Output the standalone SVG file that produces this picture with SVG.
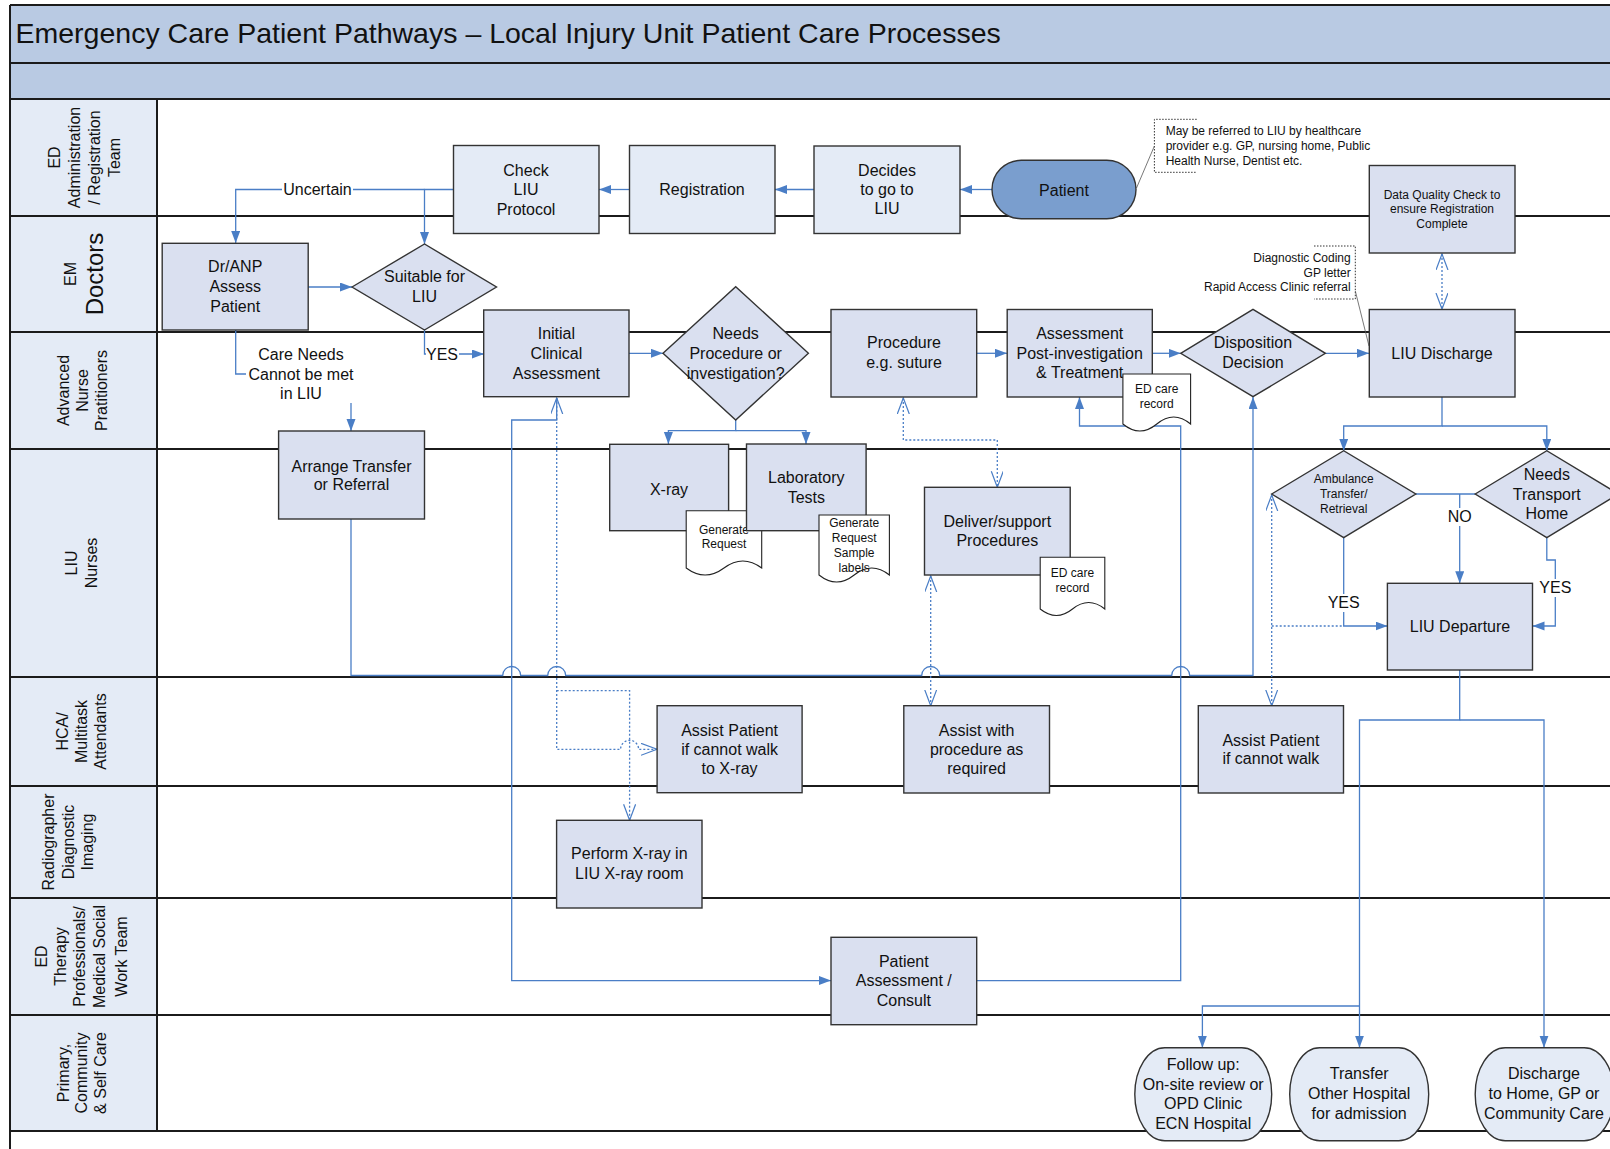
<svg xmlns="http://www.w3.org/2000/svg" width="1610" height="1149" viewBox="0 0 1610 1149">
<style>
.frame{fill:none;stroke:#1b1b1b;stroke-width:2}
.sep{stroke:#1b1b1b;stroke-width:2}
.box{fill:#DAE0F0;stroke:#333;stroke-width:1.4}
.lbox{fill:#E4EBF6;stroke:#333;stroke-width:1.4}
.doc{fill:#fff;stroke:#222;stroke-width:1.1}
.t{font-family:"Liberation Sans",Arial,sans-serif;font-size:16px;fill:#111;text-anchor:middle}
.s{font-size:12px}
.lane{font-family:"Liberation Sans",Arial,sans-serif;font-size:16px;fill:#111;text-anchor:middle}
.c{fill:none;stroke:#4A7EC6;stroke-width:1.3}
.d{stroke-dasharray:2 2}
.bg{fill:#fff}
.note{fill:none;stroke:#333;stroke-width:1;stroke-dasharray:1.5 1.5}
.thin{fill:none;stroke:#555;stroke-width:0.8}
</style>
<defs>
<marker id="ar" markerUnits="userSpaceOnUse" markerWidth="13" markerHeight="10" refX="12" refY="4.5" orient="auto">
<path d="M0,0 L12,4.5 L0,9 z" fill="#4A7EC6"/>
</marker>
<marker id="op" markerUnits="userSpaceOnUse" markerWidth="18" markerHeight="14" refX="16" refY="6" orient="auto-start-reverse">
<path d="M0,0 L16,6 L0,12" fill="none" stroke="#4A7EC6" stroke-width="1.2"/>
</marker>
</defs>
<rect width="1610" height="1149" fill="#fff"/>
<g id="frame">
<rect x="10" y="5" width="1610" height="58" fill="#B9CAE3"/>
<rect x="10" y="63" width="1610" height="36" fill="#B9CAE3"/>
<rect x="10" y="99" width="147" height="1032" fill="#E4EBF6"/>
<line class="sep" x1="10" y1="5" x2="1610" y2="5"/>
<line class="sep" x1="10" y1="5" x2="10" y2="1149"/>
<line class="sep" x1="10" y1="63" x2="1610" y2="63"/>
<line class="sep" x1="10" y1="99" x2="1610" y2="99"/>
<line class="sep" x1="10" y1="216" x2="1610" y2="216"/>
<line class="sep" x1="10" y1="332" x2="1610" y2="332"/>
<line class="sep" x1="10" y1="449" x2="1610" y2="449"/>
<line class="sep" x1="10" y1="677" x2="1610" y2="677"/>
<line class="sep" x1="10" y1="786" x2="1610" y2="786"/>
<line class="sep" x1="10" y1="898" x2="1610" y2="898"/>
<line class="sep" x1="10" y1="1015" x2="1610" y2="1015"/>
<line class="sep" x1="10" y1="1131" x2="1610" y2="1131"/>
<line class="sep" x1="157" y1="99" x2="157" y2="1131"/>
<text x="15.5" y="43" font-family="Liberation Sans, Arial, sans-serif" font-size="28.5" fill="#111">Emergency Care Patient Pathways – Local Injury Unit Patient Care Processes</text>
</g>
<g id="lane-labels">
<text class="lane" transform="translate(0,157.5) rotate(-90)"><tspan x="0" y="59.5">ED</tspan><tspan x="0" y="79.5">Administration</tspan><tspan x="0" y="99.5">/ Registration</tspan><tspan x="0" y="119.5">Team</tspan></text>
<text class="lane" transform="translate(0,274) rotate(-90)"><tspan x="0" y="75.5">EM</tspan><tspan x="0" y="103" font-size="24">Doctors</tspan></text>
<text class="lane" transform="translate(0,390.5) rotate(-90)"><tspan x="0" y="68.5">Advanced</tspan><tspan x="0" y="87.5">Nurse</tspan><tspan x="0" y="106.5">Pratitioners</tspan></text>
<text class="lane" transform="translate(0,563) rotate(-90)"><tspan x="0" y="77">LIU</tspan><tspan x="0" y="97">Nurses</tspan></text>
<text class="lane" transform="translate(0,731.5) rotate(-90)"><tspan x="0" y="67.5">HCA/</tspan><tspan x="0" y="86.5">Multitask</tspan><tspan x="0" y="105.5">Attendants</tspan></text>
<text class="lane" transform="translate(0,842) rotate(-90)"><tspan x="0" y="54">Radiographer</tspan><tspan x="0" y="73.5">Diagnostic</tspan><tspan x="0" y="92.5">Imaging</tspan></text>
<text class="lane" transform="translate(0,956.5) rotate(-90)"><tspan x="0" y="46.5">ED</tspan><tspan x="0" y="65.5">Therapy</tspan><tspan x="0" y="85">Professionals/</tspan><tspan x="0" y="104.5">Medical Social</tspan><tspan x="0" y="127">Work Team</tspan></text>
<text class="lane" transform="translate(0,1073) rotate(-90)"><tspan x="0" y="68.5">Primary,</tspan><tspan x="0" y="87">Community</tspan><tspan x="0" y="105.5">&amp; Self Care</tspan></text>
</g>
<g id="connectors">
<path class="c" d="M992,189.5 H960" marker-end="url(#ar)"/>
<path class="c" d="M814,189.5 H775" marker-end="url(#ar)"/>
<path class="c" d="M629.5,189.5 H599" marker-end="url(#ar)"/>
<path class="c" d="M453.5,189.5 H424.5 V244" marker-end="url(#ar)"/>
<path class="c" d="M424.5,189.5 H235.7 V243" marker-end="url(#ar)"/>
<path class="c" d="M308,287 H352" marker-end="url(#ar)"/>
<path class="c" d="M424.5,330 V354 H484" marker-end="url(#ar)"/>
<path class="c" d="M235.7,330 V374 H351 V431" marker-end="url(#ar)"/>
<path class="c" d="M629,353.3 H663" marker-end="url(#ar)"/>
<path class="c" d="M735.7,420 V430.7 H668.4 V444" marker-end="url(#ar)"/>
<path class="c" d="M735.7,430.7 H806 V444" marker-end="url(#ar)"/>
<path class="c" d="M976.7,353.3 H1007" marker-end="url(#ar)"/>
<path class="c" d="M1152.3,353.3 H1180.7" marker-end="url(#ar)"/>
<path class="c" d="M1325.4,353.3 H1369" marker-end="url(#ar)"/>
<path class="c d" d="M1442,254 V309" marker-start="url(#op)" marker-end="url(#op)"/>
<path class="c" d="M1442,397 V426 H1343.7 V450.7" marker-end="url(#ar)"/>
<path class="c" d="M1442,426 H1546.8 V450.7" marker-end="url(#ar)"/>
<path class="c" d="M1343.7,537.7 V626 H1387.5" marker-end="url(#ar)"/>
<path class="c" d="M1415.8,494 H1475.2"/>
<path class="c" d="M1459.7,494 V583.3" marker-end="url(#ar)"/>
<path class="c" d="M1546.8,537.7 V560 H1555.3 V626 H1532.5" marker-end="url(#ar)"/>
<path class="c" d="M1459.7,670 V720 H1359.5 V1047.7" marker-end="url(#ar)"/>
<path class="c" d="M1459.7,720 H1544 V1047.7" marker-end="url(#ar)"/>
<path class="c" d="M1359.5,1006 H1202.4 V1047.7" marker-end="url(#ar)"/>
<path class="c" d="M351,519 V675.5 H502.7 A9,9 0 0 1 520.7,675.5 H547.7 A9,9 0 0 1 565.7,675.5 H921.7 A9,9 0 0 1 939.7,675.5 H1171.7 A9,9 0 0 1 1189.7,675.5 H1253 V397" marker-end="url(#ar)"/>
<path class="c" d="M556.7,398 V420 H511.7 V980.6 H831" marker-end="url(#ar)"/>
<path class="c" d="M976.7,980.6 H1180.7 V426 H1079.5 V397" marker-end="url(#ar)"/>
<path class="c d" d="M556.7,398 V749.3 H620.6 A9,9 0 0 1 638.6,749.3 H657" marker-start="url(#op)" marker-end="url(#op)"/>
<path class="c d" d="M556.7,690.7 H629.6 V820.3" marker-end="url(#op)"/>
<path class="c d" d="M903.3,398 V440 H997.3 V487.3" marker-start="url(#op)" marker-end="url(#op)"/>
<path class="c d" d="M930.7,576 V705.7" marker-start="url(#op)" marker-end="url(#op)"/>
<path class="c d" d="M1271.7,495 V705.7" marker-start="url(#op)" marker-end="url(#op)"/>
<path class="c d" d="M1271.7,626 H1343.7"/>
<rect class="bg" x="282" y="181" width="71" height="17"/>
<text class="t" x="317.5" y="195">Uncertain</text>
<rect class="bg" x="246" y="343" width="110" height="60"/>
<text class="t" x="301"><tspan x="301" y="360">Care Needs</tspan><tspan x="301" y="379.5">Cannot be met</tspan><tspan x="301" y="399">in LIU</tspan></text>
<rect class="bg" x="426" y="346" width="33" height="16"/>
<text class="t" x="426" y="359.5" text-anchor="start" style="text-anchor:start">YES</text>
<rect class="bg" x="1328" y="594" width="32" height="18"/>
<text class="t" x="1343.7" y="608">YES</text>
<rect class="bg" x="1448" y="508" width="24" height="18"/>
<text class="t" x="1459.7" y="522">NO</text>
<rect class="bg" x="1539" y="579" width="32" height="18"/>
<text class="t" x="1555.3" y="593">YES</text>
</g>
<g id="notes">
<path class="note" d="M1196.7,119.3 H1154.4 V172.3 H1196.7"/>
<path class="thin" d="M1136.5,188 L1154.4,146"/>
<text class="t s" text-anchor="start" style="text-anchor:start"><tspan x="1165.7" y="135">May be referred to LIU by healthcare</tspan><tspan x="1165.7" y="150">provider e.g. GP, nursing home, Public</tspan><tspan x="1165.7" y="165">Health Nurse, Dentist etc.</tspan></text>
<path class="note" d="M1314,246 H1355.3 V299 H1314"/>
<path class="thin" d="M1355.3,291 L1369,346"/>
<text class="t s" style="text-anchor:end"><tspan x="1350.7" y="261.5">Diagnostic Coding</tspan><tspan x="1350.7" y="276.5">GP letter</tspan><tspan x="1350.7" y="291">Rapid Access Clinic referral</tspan></text>
</g>
<g id="check-liu"><rect class="lbox" x="453.5" y="145.5" width="145.5" height="88"/><text class="t"><tspan x="526" y="175.5">Check</tspan><tspan x="526" y="195">LIU</tspan><tspan x="526" y="214.5">Protocol</tspan></text></g>
<g id="registration"><rect class="lbox" x="629.5" y="145.5" width="145.5" height="88"/><text class="t" x="702" y="195">Registration</text></g>
<g id="decides"><rect class="lbox" x="814" y="146" width="146" height="87.5"/><text class="t"><tspan x="887" y="175.5">Decides</tspan><tspan x="887" y="195">to go to</tspan><tspan x="887" y="214">LIU</tspan></text></g>
<g id="patient"><rect x="992" y="160.3" width="144" height="58.4" rx="29.2" fill="#7A9ECE" stroke="#333" stroke-width="1.4"/><text class="t" x="1064" y="195.5">Patient</text></g>
<g id="data-quality"><rect class="box" x="1369.3" y="165.5" width="145.7" height="87.5"/><text class="t s"><tspan x="1442" y="198.5">Data Quality Check to</tspan><tspan x="1442" y="213.3">ensure Registration</tspan><tspan x="1442" y="228.3">Complete</tspan></text></g>
<g id="dr-anp"><rect class="box" x="162.2" y="243.3" width="146" height="86.7"/><text class="t"><tspan x="235.2" y="272">Dr/ANP</tspan><tspan x="235.2" y="292">Assess</tspan><tspan x="235.2" y="312">Patient</tspan></text></g>
<g id="suitable"><path class="box" d="M352,287 L424.5,244 L496.5,287 L424.5,330 Z"/><text class="t"><tspan x="424.5" y="282">Suitable for</tspan><tspan x="424.5" y="302">LIU</tspan></text></g>
<g id="initial"><rect class="box" x="483.7" y="310" width="145.3" height="86.7"/><text class="t"><tspan x="556.4" y="339">Initial</tspan><tspan x="556.4" y="359">Clinical</tspan><tspan x="556.4" y="379">Assessment</tspan></text></g>
<g id="needs-procedure"><path class="box" d="M663,353.3 L735.7,286.7 L808.4,353.3 L735.7,420 Z"/><text class="t"><tspan x="735.7" y="339">Needs</tspan><tspan x="735.7" y="359">Procedure or</tspan><tspan x="735.7" y="379">investigation?</tspan></text></g>
<g id="procedure"><rect class="box" x="831" y="309.5" width="145.7" height="87.5"/><text class="t"><tspan x="904" y="348">Procedure</tspan><tspan x="904" y="368">e.g. suture</tspan></text></g>
<g id="assessment-post"><rect class="box" x="1007.2" y="309.5" width="145.1" height="87.5"/><text class="t"><tspan x="1079.7" y="339">Assessment</tspan><tspan x="1079.7" y="358.5">Post-investigation</tspan><tspan x="1079.7" y="377.5">&amp; Treatment</tspan></text></g>
<g id="ed-care-record-1"><path class="doc" d="M1122.9,374 H1190.6 V424 Q1173.7,410 1156.8,424 Q1139.9,438 1122.9,424 Z"/><text class="t s"><tspan x="1156.7" y="393.3">ED care</tspan><tspan x="1156.7" y="407.5">record</tspan></text></g>
<g id="disposition"><path class="box" d="M1180.7,353.3 L1253,309.3 L1325.4,353.3 L1253,396.7 Z"/><text class="t"><tspan x="1253" y="348">Disposition</tspan><tspan x="1253" y="368">Decision</tspan></text></g>
<g id="liu-discharge"><rect class="box" x="1369.3" y="309.5" width="145.7" height="87.5"/><text class="t" x="1442" y="359">LIU Discharge</text></g>
<g id="arrange-transfer"><rect class="box" x="278.6" y="431" width="145.9" height="88"/><text class="t"><tspan x="351.5" y="471.5">Arrange Transfer</tspan><tspan x="351.5" y="490">or Referral</tspan></text></g>
<g id="xray"><rect class="box" x="609.7" y="444.3" width="118.9" height="86.4"/><text class="t" x="669" y="494.5">X-ray</text></g>
<g id="gen-request"><path class="doc" d="M686.2,510.7 H761.7 V568 Q742.8,554 724,568 Q705.1,582 686.2,568 Z"/><text class="t s"><tspan x="724" y="533.5">Generate</tspan><tspan x="724" y="548">Request</tspan></text></g>
<g id="lab-tests"><rect class="box" x="746.5" y="444" width="119.6" height="86.7"/><text class="t"><tspan x="806.3" y="483">Laboratory</tspan><tspan x="806.3" y="503">Tests</tspan></text></g>
<g id="gen-request-labels"><path class="doc" d="M819,515 H889.4 V575 Q871.8,561 854.2,575 Q836.6,589 819,575 Z"/><text class="t s"><tspan x="854.2" y="527">Generate</tspan><tspan x="854.2" y="542">Request</tspan><tspan x="854.2" y="557">Sample</tspan><tspan x="854.2" y="571.5">labels</tspan></text></g>
<g id="deliver-support"><rect class="box" x="924.5" y="487.3" width="145.7" height="87.7"/><text class="t"><tspan x="997.3" y="526.5">Deliver/support</tspan><tspan x="997.3" y="546">Procedures</tspan></text></g>
<g id="ed-care-record-2"><path class="doc" d="M1040.2,557.3 H1104.8 V609 Q1088.7,596 1072.5,609 Q1056.4,622 1040.2,609 Z"/><text class="t s"><tspan x="1072.5" y="577">ED care</tspan><tspan x="1072.5" y="592">record</tspan></text></g>
<g id="ambulance"><path class="box" d="M1271.7,494 L1343.7,450.7 L1415.8,494 L1343.7,537.7 Z"/><text class="t s"><tspan x="1343.7" y="483">Ambulance</tspan><tspan x="1343.7" y="497.5">Transfer/</tspan><tspan x="1343.7" y="512.5">Retrieval</tspan></text></g>
<g id="needs-transport"><path class="box" d="M1475.2,494 L1546.8,450.7 L1618.4,494 L1546.8,537.7 Z"/><text class="t"><tspan x="1546.8" y="480">Needs</tspan><tspan x="1546.8" y="499.5">Transport</tspan><tspan x="1546.8" y="519">Home</tspan></text></g>
<g id="liu-departure"><rect class="box" x="1387.4" y="583.3" width="145.1" height="86.7"/><text class="t" x="1460" y="632">LIU Departure</text></g>
<g id="assist-xray"><rect class="box" x="657.1" y="705.7" width="145" height="87"/><text class="t"><tspan x="729.6" y="735.5">Assist Patient</tspan><tspan x="729.6" y="754.5">if cannot walk</tspan><tspan x="729.6" y="774">to X-ray</tspan></text></g>
<g id="perform-xray"><rect class="box" x="556.6" y="820.3" width="145.4" height="87.7"/><text class="t"><tspan x="629.3" y="859">Perform X-ray in</tspan><tspan x="629.3" y="879">LIU X-ray room</tspan></text></g>
<g id="assist-procedure"><rect class="box" x="903.8" y="705.7" width="145.7" height="87.3"/><text class="t"><tspan x="976.6" y="735.5">Assist with</tspan><tspan x="976.6" y="755">procedure as</tspan><tspan x="976.6" y="774">required</tspan></text></g>
<g id="assist-walk"><rect class="box" x="1198.3" y="705.7" width="145.2" height="87.3"/><text class="t"><tspan x="1270.9" y="745.5">Assist Patient</tspan><tspan x="1270.9" y="764">if cannot walk</tspan></text></g>
<g id="patient-assessment"><rect class="box" x="831" y="937.3" width="145.7" height="87.4"/><text class="t"><tspan x="903.8" y="967">Patient</tspan><tspan x="903.8" y="986">Assessment /</tspan><tspan x="903.8" y="1005.5">Consult</tspan></text></g>
<g id="follow-up"><rect class="lbox" x="1134.8" y="1047.7" width="136.9" height="93" rx="30" ry="46.5"/><text class="t"><tspan x="1203.2" y="1069.5">Follow up:</tspan><tspan x="1203.2" y="1089.5">On-site review or</tspan><tspan x="1203.2" y="1109">OPD Clinic</tspan><tspan x="1203.2" y="1128.5">ECN Hospital</tspan></text></g>
<g id="transfer-hospital"><rect class="lbox" x="1289.7" y="1047.7" width="139" height="93" rx="30" ry="46.5"/><text class="t"><tspan x="1359.2" y="1079">Transfer</tspan><tspan x="1359.2" y="1099">Other Hospital</tspan><tspan x="1359.2" y="1118.5">for admission</tspan></text></g>
<g id="discharge-home"><rect class="lbox" x="1475.2" y="1047.7" width="139" height="93" rx="30" ry="46.5"/><text class="t"><tspan x="1544" y="1079">Discharge</tspan><tspan x="1544" y="1099">to Home, GP or</tspan><tspan x="1544" y="1118.5">Community Care</tspan></text></g>
</svg>
